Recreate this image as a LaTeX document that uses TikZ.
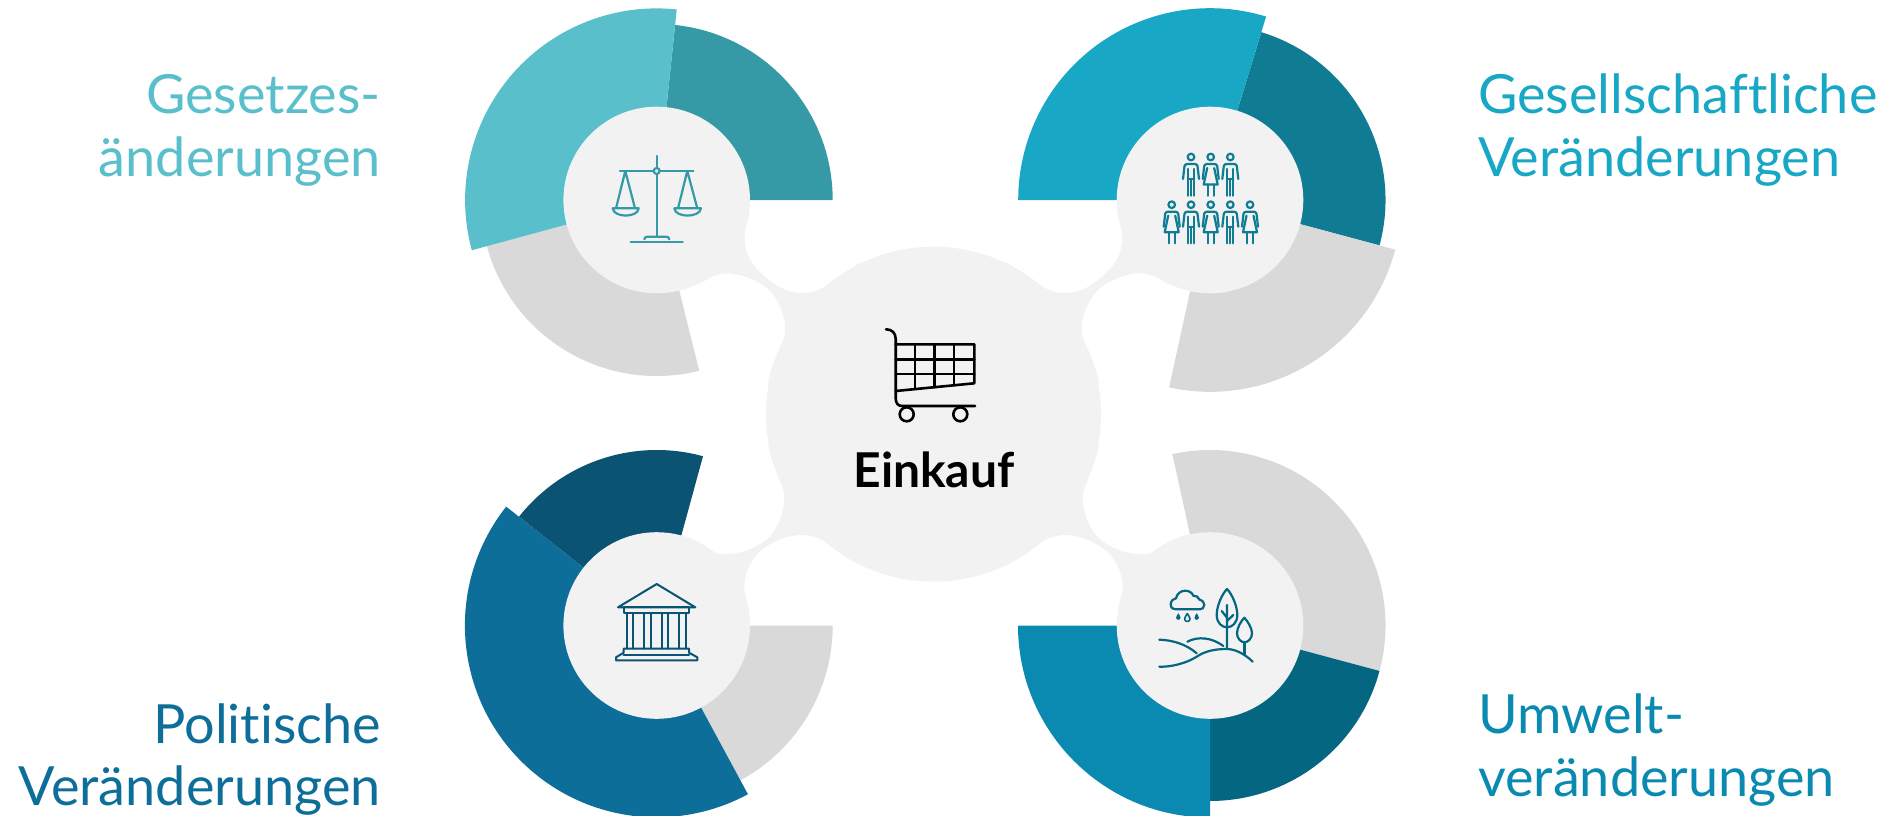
\documentclass[tikz,border=0pt]{standalone}
\usepackage{fontspec}
\setmainfont{Lato}[Ligatures=NoCommon]
\definecolor{hub}{HTML}{F2F2F2}
\definecolor{greyseg}{HTML}{D9D9D9}
\definecolor{tealL}{HTML}{58BFCB}
\definecolor{tealD}{HTML}{3599A6}
\definecolor{cyanL}{HTML}{18A7C5}
\definecolor{cyanD}{HTML}{107C93}
\definecolor{navyL}{HTML}{0D6E9A}
\definecolor{navyD}{HTML}{0A5372}
\definecolor{seaL}{HTML}{0A8AB0}
\definecolor{seaD}{HTML}{056682}
\newcommand{\myseg}[6]{\begin{scope}[shift={(#1,#2)},yscale=-1]\fill[#6] (0,0) -- (#4:#3) arc[start angle=#4,end angle=#5,radius=#3] -- cycle;\end{scope}}
\newcommand{\myneck}{\fill[hub] (749,215) .. controls (748,222) and (745,226) .. (744.7,236) .. controls (744,250) and (750,263) .. (760,272) .. controls (772,284) and (786,293) .. (802,293) .. controls (812,293) and (820,290) .. (827,285) .. controls (837,277) and (848,270) .. (860,263) -- (933.5,414) -- (768,383) .. controls (770,370) and (776,356) .. (782.7,343.3) .. controls (784,339) and (785,335) .. (785,328) .. controls (785,314) and (778,298) .. (767,288.3) .. controls (757,280) and (740,273.3) .. (727,273.3) .. controls (718,273.3) and (710,277) .. (703,282) -- (690,287) -- (656.7,200) -- cycle;}
\newcommand{\mylowneck}{\fill[hub] (749,612) .. controls (748,603) and (744.3,596) .. (744.3,586.7) .. controls (744.3,572) and (752,558) .. (761.7,550) .. controls (773,541) and (788,535) .. (801.7,535) .. controls (812,535) and (822,539) .. (830,545) .. controls (840,552) and (850,559) .. (860,565) -- (933.5,414) -- (768.3,446.7) .. controls (771,460) and (776,470) .. (780,481.7) .. controls (783,488) and (784.3,492) .. (784.3,497) .. controls (784.3,515) and (776,530) .. (768.3,538.3) .. controls (758,547) and (742,554) .. (726.7,554) .. controls (721,554) and (718,554) .. (715,552.7) .. controls (710,550) and (707,547) .. (703.3,545) .. controls (696,541) and (689,538) .. (681.7,535) -- (656.7,625.5) -- cycle;}
\tikzset{
  x=1pt,y=-1pt,
  icon/.style={line width=2.2pt,line cap=round,line join=round},
  lab/.style={inner sep=0pt,font=\fontsize{54}{66}\selectfont},
  hubcirc/.style={fill=hub,draw=none},
  man/.pic={
    \draw (0,0) circle[radius=3.3];
    \draw (-8,22) -- (-6.5,9) .. controls (-6,7.5) and (-5,7) .. (-3.5,7) -- (3.5,7) .. controls (5,7) and (6,7.5) .. (6.5,9) -- (8,22);
    \draw (-3,12) -- (-3,38.7) (3,12) -- (3,38.7) (-3,22) -- (3,22) (0,22) -- (0,38.7);
  },
  woman/.pic={
    \draw (0,0) circle[radius=3.3];
    \draw (-8,22) -- (-6.5,9) .. controls (-6,7.5) and (-5,7) .. (-3.5,7) -- (3.5,7) .. controls (5,7) and (6,7.5) .. (6.5,9) -- (8,22);
    \draw (-3.5,11) -- (-7,27.5) -- (7,27.5) -- (3.5,11);
    \draw (-3,27.5) -- (-3,38.7) (3,27.5) -- (3,38.7);
  },
  drop/.pic={\fill (0,-3.5) .. controls (1,-1.5) and (2.2,-0.5) .. (2.2,1) .. controls (2.2,3.8) and (-2.2,3.8) .. (-2.2,1) .. controls (-2.2,-0.5) and (-1,-1.5) .. (0,-3.5) -- cycle;}
}
\begin{document}
\begin{tikzpicture}
\useasboundingbox (0,0) rectangle (1890,816);
% segments
\myseg{656.7}{200}{176}{0}{84}{tealD}
\myseg{656.7}{200}{176}{195}{284}{greyseg}
\myseg{656.7}{200}{191.6}{84}{195.2}{tealL}
\myseg{1210}{200}{175.5}{-15}{73}{cyanD}
\myseg{1210}{200}{191.8}{257.7}{345}{greyseg}
\myseg{1210}{200}{191.8}{73}{180}{cyanL}
\myseg{656.7}{625.5}{175.5}{74.7}{141.7}{navyD}
\myseg{656.7}{625.5}{176}{-61.6}{0}{greyseg}
\myseg{656.7}{625.5}{191.8}{141.7}{298.4}{navyL}
\myseg{1210}{625.5}{175.5}{-15}{102.4}{greyseg}
\myseg{1210}{625.5}{175.5}{270}{345}{seaD}
\myseg{1210}{625.5}{192}{180}{270}{seaL}
% connected hub
\myneck
\begin{scope}[shift={(1867,0)},xscale=-1]\myneck\end{scope}
\mylowneck
\begin{scope}[shift={(1867,0)},xscale=-1]\mylowneck\end{scope}
\fill[hubcirc] (933.5,414.2) circle[radius=167.5];
\fill[hubcirc] (656.7,200) circle[radius=93.3];
\fill[hubcirc] (1210,200) circle[radius=93.3];
\fill[hubcirc] (656.7,625.5) circle[radius=93.3];
\fill[hubcirc] (1210,625.5) circle[radius=93.3];
% scales
\begin{scope}[icon,draw=tealD]
\draw (620,171) -- (653.7,171) (659.7,171) -- (693.3,171);
\draw (656.7,156) -- (656.7,168) (656.7,174) -- (656.7,236.7);
\draw (656.7,171) circle[radius=3];
\draw (630.7,242) -- (682.7,242);
\draw (644.3,239.3) .. controls (644.5,237.5) and (645.5,236.7) .. (647.5,236.7) -- (666,236.7) .. controls (668,236.7) and (669,237.5) .. (669.3,239.3);
\draw (616,208.3) -- (625.3,171) -- (635,208.3);
\draw (612.7,208.3) -- (638.7,208.3) .. controls (638,218) and (613.5,218) .. (612.7,208.3);
\draw (678,208.3) -- (687.3,171) -- (697.3,208.3);
\draw (674.3,208.3) -- (701,208.3) .. controls (700,218) and (675,218) .. (674.3,208.3);
\end{scope}
% people
\begin{scope}[icon,draw=cyanD]
\pic at (1191,157) {man};
\pic at (1210.7,157) {woman};
\pic at (1230.3,157) {man};
\pic at (1171.7,204.7) {woman};
\pic at (1191,204.7) {man};
\pic at (1210.7,204.7) {woman};
\pic at (1230.3,204.7) {man};
\pic at (1250,204.7) {woman};
\end{scope}
% temple
\begin{scope}[icon,draw=navyD,line width=2pt]
\draw (618,607.3) -- (656.7,584) -- (695.3,607.3) -- cycle;
\draw (623.7,607.3) rectangle (689,613.3);
\draw (627.3,613.3) -- (627.3,648.7) (633.3,613.3) -- (633.3,648.7) (644.3,613.3) -- (644.3,648.7) (650.7,613.3) -- (650.7,648.7) (662,613.3) -- (662,648.7) (668.3,613.3) -- (668.3,648.7) (679.3,613.3) -- (679.3,648.7) (686.3,613.3) -- (686.3,648.7);
\draw (623.7,648.7) -- (689,648.7) -- (689,652.7) -- (697.3,657.3) -- (697.3,660.3) -- (616,660.3) -- (616,657.3) -- (623.7,652.7) -- cycle;
\draw (623.7,654.5) -- (689,654.5);
\end{scope}
% landscape
\begin{scope}[icon,draw=seaD,fill=seaD]
\draw[fill=none] (1176,609.3) .. controls (1171,609) and (1170.5,606) .. (1170.7,604.3) .. controls (1171,600.5) and (1173.5,598.5) .. (1176,598.3) .. controls (1177,593.5) and (1181,590.7) .. (1185,590.7) .. controls (1189,590.7) and (1192,592.5) .. (1193.3,595.7) .. controls (1196,595.5) and (1199,597) .. (1199.3,599.5) .. controls (1202.5,600.5) and (1204.5,602.5) .. (1204.3,605) .. controls (1204,608) and (1202,609.3) .. (1200,609.3) -- cycle;
\pic[draw=none] at (1178.3,616.7) {drop};
\pic[draw=none] at (1196.7,616.7) {drop};
\draw[fill=none,line width=1.6pt] (1187.3,613.5) .. controls (1188.5,616) and (1190,617) .. (1190,619) .. controls (1190,622.3) and (1184.6,622.3) .. (1184.6,619) .. controls (1184.6,617) and (1186.1,616) .. (1187.3,613.5);
\draw[fill=none] (1227,589) .. controls (1222,594) and (1216.7,606) .. (1216.7,615) .. controls (1216.7,623) and (1222,627.3) .. (1227,627.3) .. controls (1232,627.3) and (1237.3,623) .. (1237.3,615) .. controls (1237.3,606) and (1232,594) .. (1227,589) -- cycle;
\draw (1227,605) -- (1227,649) (1221.7,611) -- (1227,617.7) (1233.3,615) -- (1227,621);
\draw[fill=none] (1244.3,617.7) .. controls (1241,621) and (1237,628) .. (1237,633.3) .. controls (1237,638.5) and (1241,642.3) .. (1244.5,642.3) .. controls (1248,642.3) and (1252,638.5) .. (1252,633.3) .. controls (1252,628) and (1247.5,621) .. (1244.3,617.7) -- cycle;
\draw (1244.5,642.3) -- (1244.5,655);
\draw[fill=none] (1159.3,666.7) .. controls (1170,667) and (1185,664) .. (1196.7,656.7) .. controls (1205,651) and (1215,649) .. (1226.7,649) .. controls (1236,649) and (1246,655) .. (1252.7,661.7);
\draw[fill=none] (1159.3,639.7) .. controls (1172,640) and (1186,644) .. (1196.7,653.3);
\draw[fill=none] (1187.3,641.7) .. controls (1198,636) and (1212,637.5) .. (1223.3,646);
\end{scope}
% cart
\begin{scope}[icon,draw=black,line width=2.6pt]
\draw (886,329.3) .. controls (892,329.3) and (895.7,333) .. (895.7,339) -- (895.7,398.3) .. controls (895.7,403) and (898,406) .. (902,406) -- (975,406);
\draw (895.7,344.3) -- (974.3,344.3) -- (974.3,383.3) -- (895.7,391);
\draw (895.7,359.3) -- (974.3,359.3) (895.7,374) -- (974.3,374);
\draw (915,344.3) -- (915,389) (934.3,344.3) -- (934.3,387.2) (954,344.3) -- (954,385.3);
\draw (906.7,414.3) circle[radius=7];
\draw (960.3,414.3) circle[radius=7];
\end{scope}
% texts
\node[anchor=base,inner sep=0pt,font=\bfseries\fontsize{48}{48}\selectfont] (hubtext) at (934,487) {Einkauf};
\node[lab,anchor=base east,text=tealL] (lawa) at (381,113) {Gesetzes-};
\node[lab,anchor=base east,text=tealL] (lawb) at (381,176.7) {änderungen};
\node[lab,anchor=base west,text=cyanL] (soca) at (1478,113) {Gesellschaftliche};
\node[lab,anchor=base west,text=cyanL] (socb) at (1478,176.7) {Veränderungen};
\node[lab,anchor=base east,text=navyL] (pola) at (381,743) {Politische};
\node[lab,anchor=base east,text=navyL] (polb) at (381,805) {Veränderungen};
\node[lab,anchor=base west,text=seaL] (enva) at (1478,733) {Umwelt-};
\node[lab,anchor=base west,text=seaL] (envb) at (1478,796.7) {veränderungen};
\end{tikzpicture}
\end{document}
